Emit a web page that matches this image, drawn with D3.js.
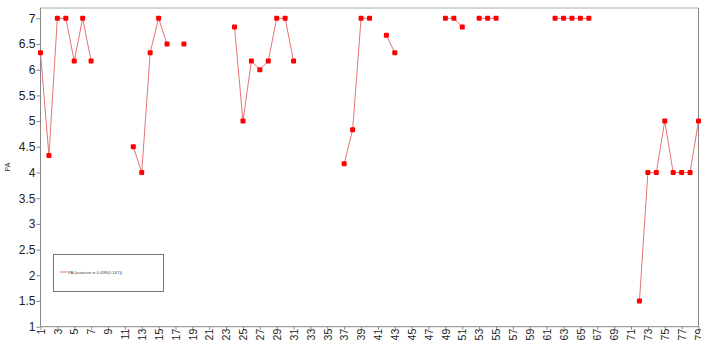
<!DOCTYPE html>
<html><head><meta charset="utf-8">
<script src="https://cdn.jsdelivr.net/npm/d3@7"></script>
<style>body{margin:0;background:#fff}svg{display:block}</style>
</head><body><svg id="c" width="701" height="340"></svg>
<script>
const categories = d3.range(1, 80);
const paValues = [
  6.33, 4.33, 7, 7, 6.17, 7, 6.17, null, null, null,
  null, 4.5, 4.0, 6.33, 7, 6.5, null, 6.5, null, null,
  null, null, null, 6.83, 5.0, 6.17, 6.0, 6.17, 7, 7,
  6.17, null, null, null, null, null, 4.17, 4.83, 7, 7,
  null, 6.67, 6.33, null, null, null, null, null, 7, 7,
  6.83, null, 7, 7, 7, null, null, null, null, null,
  null, 7, 7, 7, 7, 7, null, null, null, null,
  null, 1.5, 4, 4, 5, 4, 4, 4, 5
];
const yTicks = d3.range(1, 7.01, 0.5);
const xTicks = d3.range(1, 80, 2);
const legendLabel = "PA (autocorr = 0.499(0.147))";
const yLabel = "PA";

const data = categories.map((c, i) => ({x: c, y: paValues[i]}));
const svg = d3.select("#c");
const L = 40.5, R = 698.5, T = 8, B = 326.7;
const x = d3.scaleLinear().domain([1, 79]).range([L, R]);
const y = d3.scaleLinear().domain([1, 7.2]).range([B, T]);

// frame
svg.append("line").attr("x1", L).attr("x2", R).attr("y1", T).attr("y2", T).attr("stroke", "#c8c8c8").attr("stroke-width", 1.5);
svg.append("line").attr("x1", R).attr("x2", R).attr("y1", T).attr("y2", B).attr("stroke", "#888").attr("stroke-width", 1);

const yAxis = svg.append("g").attr("transform", `translate(${L},0)`)
  .call(d3.axisLeft(y).tickValues(yTicks).tickSize(4).tickPadding(1).tickFormat(d => d3.format("~g")(d)));
yAxis.select(".domain").attr("stroke", "#888").attr("d", `M0,${T}V${B}`);
yAxis.selectAll(".tick line").attr("stroke", "#888");
yAxis.selectAll("text").attr("font-family", "Arial, 'Liberation Sans', sans-serif").attr("font-size", 12).attr("fill", "#222");

const xAxis = svg.append("g").attr("transform", `translate(0,${B})`)
  .call(d3.axisBottom(x).tickValues(xTicks).tickSize(3).tickFormat(d3.format("d")));
xAxis.select(".domain").attr("stroke", "#888").attr("d", `M${L},0H${R}`);
xAxis.selectAll(".tick line").attr("stroke", "#888");
xAxis.selectAll("text").attr("font-family", "Arial, 'Liberation Sans', sans-serif").attr("font-size", 10.5).attr("fill", "#222")
  .attr("transform", "rotate(-90)").attr("text-anchor", "end").attr("x", -2).attr("y", 0).attr("dy", "0.35em");

svg.append("text").attr("transform", `translate(10,167) rotate(-90)`).attr("text-anchor", "middle")
  .attr("font-family", "Arial, sans-serif").attr("font-size", 7).attr("fill", "#333").text(yLabel);

const line = d3.line().defined(d => d.y != null).x(d => x(d.x)).y(d => y(d.y));
svg.append("path").datum(data).attr("d", line).attr("fill", "none").attr("stroke", "#e57373").attr("stroke-width", 1);

svg.append("g").selectAll("rect").data(data.filter(d => d.y != null)).join("rect")
  .attr("x", d => x(d.x) - 2.5).attr("y", d => y(d.y) - 2.5).attr("width", 5).attr("height", 5).attr("rx", 1)
  .attr("fill", "#ff0000");

// legend
const lg = svg.append("g");
lg.append("rect").attr("x", 53.5).attr("y", 254.5).attr("width", 110).attr("height", 37).attr("fill", "#fff").attr("stroke", "#777");
lg.append("line").attr("x1", 60).attr("x2", 67).attr("y1", 272).attr("y2", 272).attr("stroke", "#e57373");
lg.append("text").attr("x", 68).attr("y", 273.5).attr("font-family", "Arial, sans-serif").attr("font-size", 4.3).attr("fill", "#444").text(legendLabel);
</script></body></html>
